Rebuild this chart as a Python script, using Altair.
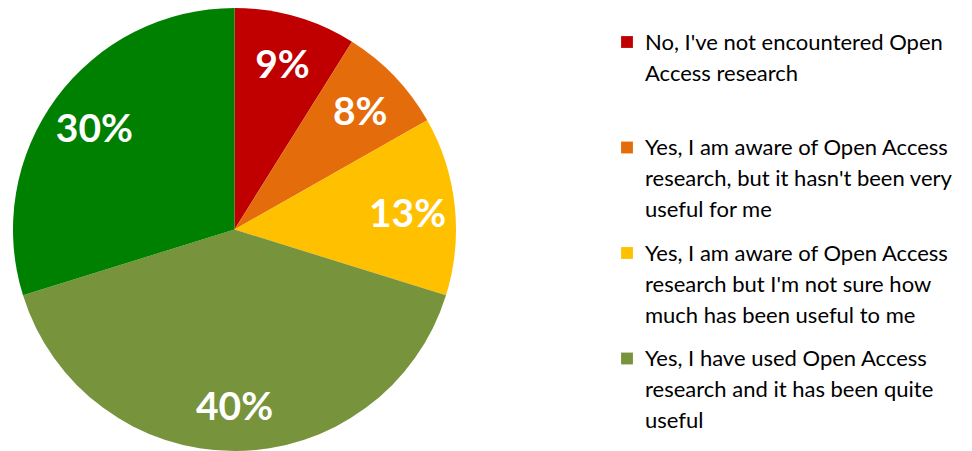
import altair as alt
import pandas as pd

# ---- data ----
categories = [
    "No, I've not encountered Open Access research",
    "Yes, I am aware of Open Access research, but it hasn't been very useful for me",
    "Yes, I am aware of Open Access research but I'm not sure how much has been useful to me",
    "Yes, I have used Open Access research and it has been quite useful",
    "Yes, I have used Open Access research and it has been very useful",
]
values = [8.9, 7.9, 13.0, 40.4, 29.8]
colors = ["#C00000", "#E46C0A", "#FFC000", "#77933C", "#008000"]
legend_lines = [
    "No, I've not encountered Open|Access research",
    "Yes, I am aware of Open Access|research, but it hasn't been very|useful for me",
    "Yes, I am aware of Open Access|research but I'm not sure how|much has been useful to me",
    "Yes, I have used Open Access|research and it has been quite|useful",
]
legend_count = 4  # only the first four entries are visible in the reference

pie_df = pd.DataFrame({
    "category": categories,
    "value": values,
    "order": list(range(len(categories))),
})
legend_df = pd.DataFrame({
    "category": categories[:legend_count],
    "lines": legend_lines,
})

color_scale = alt.Scale(domain=categories, range=colors)
FONT = "Lato"

base = alt.Chart(pie_df).encode(
    theta=alt.Theta("value:Q", stack=True),
    order=alt.Order("order:Q"),
)
arcs = base.mark_arc(outerRadius=221.5).encode(
    color=alt.Color("category:N", scale=color_scale, legend=None)
)
labels = base.transform_calculate(
    label="round(datum.value) + '%'"
).mark_text(
    radius=174, dy=4, font=FONT, fontSize=39, fontWeight="bold", fill="white"
).encode(text="label:N")

pie = alt.layer(arcs, labels).properties(width=443, height=443)

leg_y = alt.Y(
    "category:N",
    scale=alt.Scale(type="point", padding=0, domain=categories[:legend_count], range=[41.5, 358]),
    axis=None,
)
leg_base = alt.Chart(legend_df).encode(y=leg_y)
squares = leg_base.mark_square(size=140, yOffset=-7.5, opacity=1).encode(
    x=alt.value(15),
    color=alt.Color("category:N", scale=color_scale, legend=None),
)
texts = leg_base.mark_text(
    align="left", baseline="alphabetic", lineBreak="|", lineHeight=31,
    font=FONT, fontSize=22, color="#000000",
).encode(x=alt.value(33), text="lines:N")

legend_panel = alt.layer(squares, texts).properties(width=330, height=443)

chart = alt.hconcat(pie, legend_panel, spacing=156).properties(
    padding={"left": 5, "top": 0, "right": 0, "bottom": 0}
).configure_view(stroke=None)

chart.save("out.html", embed_options={"renderer": "svg", "actions": False})
